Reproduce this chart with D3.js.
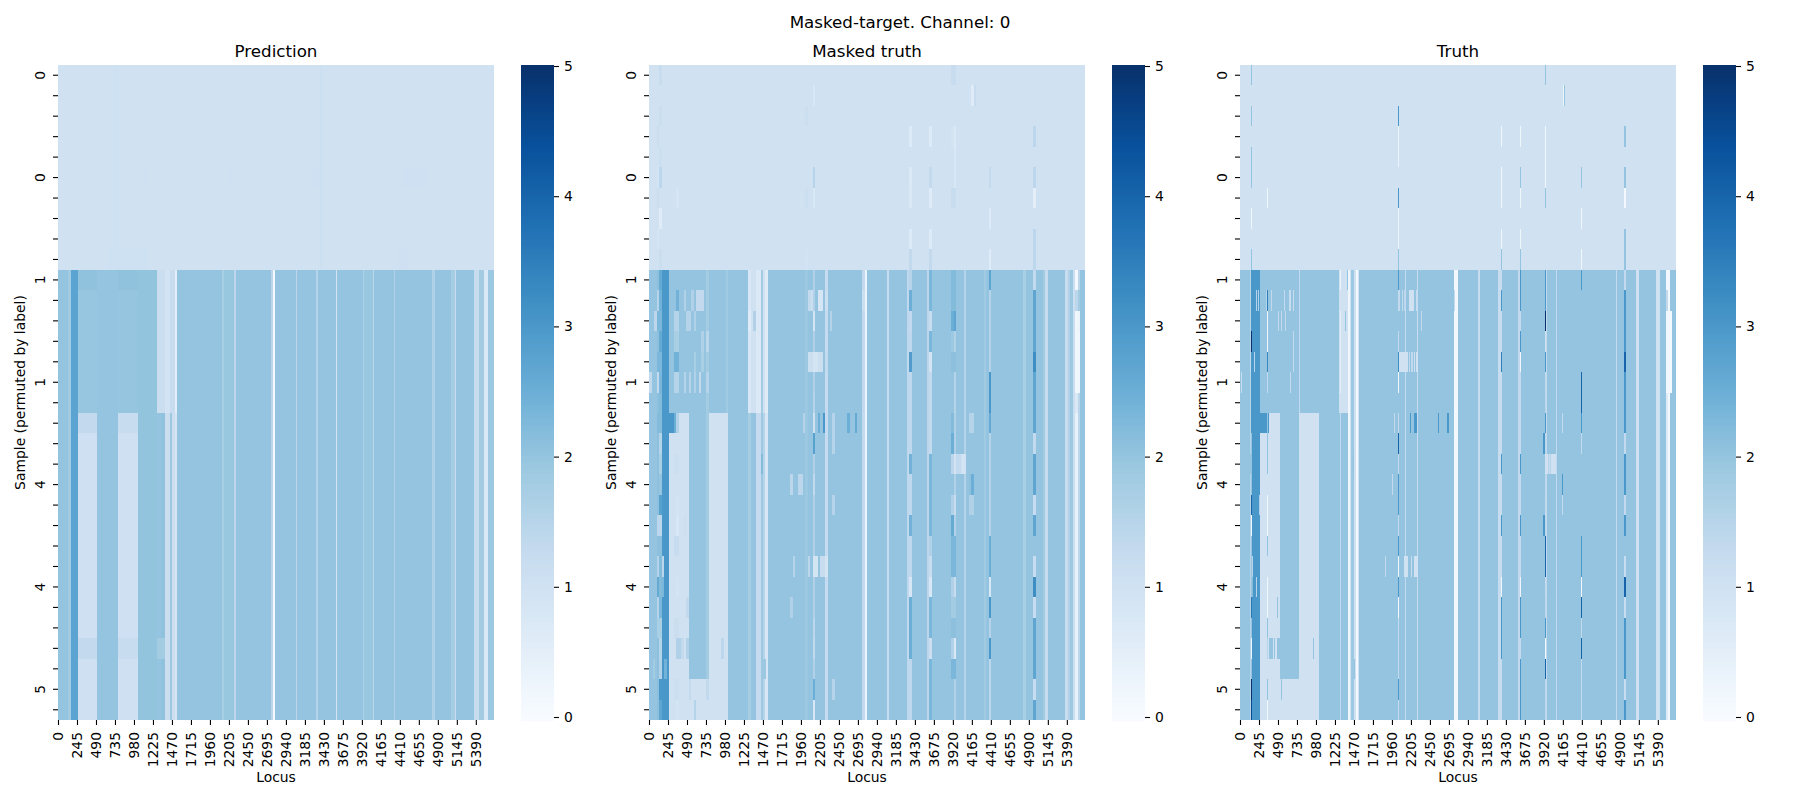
<!DOCTYPE html>
<html>
<head>
<meta charset="utf-8">
<script src="https://cdn.jsdelivr.net/npm/d3@7"></script>
<style>
  html, body { margin: 0; background: #fff; }
  text { font-family: "DejaVu Sans", sans-serif; fill: #000; }
</style>
</head>
<body>
<script>
// heatmap is stored in bins of 12.9 loci, 32 samples by 436 bins
var binLoci = 12.9;
var numBins = 436;
var numRows = 32;

var panelTitles = ["Prediction", "Masked truth", "Truth"];
var xTickLabels = [0, 245, 490, 735, 980, 1225, 1470, 1715, 1960, 2205, 2450, 2695, 2940, 3185, 3430, 3675, 3920, 4165, 4410, 4655, 4900, 5145, 5390];
var yTickLabels = ["0", "0", "1", "1", "4", "4", "5"]; // one label every 5 rows
var colorTicks = [0, 1, 2, 3, 4, 5];
var bluesStops = ["#f7fbff", "#deebf7", "#c6dbef", "#9ecae1", "#6baed6", "#4292c6", "#2171b5", "#08519c", "#08306b"];

// columns: [fromBin, toBin, value], samples 10 to 31
var predictionColumns = [[0,10,2],[10,13,1.85],[13,20,2.75],[20,39,2],[39,60,2],[60,80,2],[80,99,2.02],[99,103,2],[103,107,2.05],[107,112,1.15],[112,114,1.9],[114,117,1.1],[117,119,0.85],[119,164,2],[164,166,1.7],[166,176,1.95],[176,178,1.4],[178,213,2],[213,215,1.4],[215,217,0.1],[217,238,2],[238,239,1.4],[239,258,2],[258,260,1.5],[260,278,2],[278,279,0.9],[279,305,2],[305,306,1.6],[306,315,1.95],[315,316,1.4],[316,336,2],[336,337,1.6],[337,374,2],[374,377,1.6],[377,393,2],[393,397,1.75],[397,398,1.2],[398,416,2],[416,421,1.2],[421,426,1.8],[426,430,0.7],[430,436,1.9]];
var maskedColumns = [[0,8,2],[8,10,2.1],[10,13,2.2],[13,20,3],[20,57,2],[57,60,1.8],[60,77,2],[77,79,1.85],[79,99,2],[99,102,1.75],[102,107,2],[107,112,1.25],[112,114,1.9],[114,116,1.5],[116,119,0.8],[119,156,2],[156,159,1.9],[159,164,2],[164,166,1.6],[166,176,2],[176,179,1.25],[179,213,2],[213,216,1.3],[216,218,0.3],[218,238,2],[238,240,1.2],[240,258,2],[258,263,1.35],[263,278,2],[278,280,1.4],[280,283,1.3],[283,305,2],[305,307,1.6],[307,315,2],[315,317,1.5],[317,335,2],[335,337,1.85],[337,340,2],[340,342,1.5],[342,374,2],[374,377,1.7],[377,384,2],[384,387,2.7],[387,394,2],[394,396,1.8],[396,399,1.2],[399,416,2],[416,419,1.2],[419,421,1.6],[421,424,1.9],[424,426,1.1],[426,429,0.4],[429,431,1.4],[431,436,2]];
var truthColumns = [[0,10,2],[10,11,1.5],[11,20,3],[20,59,2],[59,60,1.3],[60,100,2],[100,101,1.3],[101,108,2],[108,110,0.2],[110,111,1],[111,114,1.9],[114,116,1],[116,118,0.1],[118,119,1],[119,158,2],[158,159,1.3],[159,165,2],[165,166,1.3],[166,177,2],[177,178,1.2],[178,214,2],[214,218,0.1],[218,238,2],[238,240,1.2],[240,258,2],[258,262,1.2],[262,278,2],[278,281,1.3],[281,305,2],[305,306,1.4],[306,307,1.3],[307,316,2],[316,317,1.3],[317,376,2],[376,377,1.3],[377,384,2],[384,386,3],[386,396,2],[396,399,1],[399,416,2],[416,420,1],[420,426,2],[426,428,0.6],[428,430,0.1],[430,436,2]];

// blocks: [fromRow, toRow, fromBin, toBin, value]
var predictionBlocks = [[0,10,0,436,1],[0,10,55,60,1.03],[0,10,262,265,1.06],[5,6,85,90,1.04],[5,6,170,174,1.04],[5,6,255,262,1.04],[5,6,345,370,1.04],[9,10,50,90,1.03],[9,10,340,350,1.04],[10,11,20,39,2.05],[10,11,60,80,2.05],[11,17,20,39,1.96],[11,17,60,80,1.97],[10,17,99,107,1.15],[10,17,107,112,0.95],[10,17,112,117,1.2],[10,17,117,119,0.5],[17,32,20,39,1.05],[17,32,60,80,1.05],[17,18,20,39,1.3],[17,18,60,80,1.2],[28,29,20,39,1.3],[28,29,60,80,1.2],[28,29,99,107,1.8]];
var maskedBlocks = [[0,10,0,436,1],[10,17,99,102,0.8],[10,17,102,107,1],[10,17,107,112,0.7],[10,17,112,114,1.8],[10,17,114,116,1],[10,17,116,119,0.6],[18,32,20,40,1],[17,18,30,40,1],[17,18,13,25,3],[17,32,60,79,1],[30,32,40,60,1]];
var truthBlocks = [[0,10,0,436,1],[10,17,99,108,1],[12,16,100,101,0.5],[18,32,20,40,1],[17,18,29,40,1],[17,18,11,27,3],[17,18,28,29,3],[17,32,59,79,1],[30,32,40,59,1],[18,32,11,12,2],[12,16,430,432,0.1]];

// single cells per sample: [fromBin, toBin, value]
var predictionRows = [[],[],[],[],[],[],[],[],[],[],[],[],[],[],[],[],[],[],[],[],[],[],[],[],[],[],[],[],[],[],[],[]];
var maskedRows = [
  [[10,13,1.2],[302,307,1.2]],
  [[164,166,0.8],[322,325,0.6],[325,327,1.2]],
  [[10,13,1.15],[156,159,1.1]],
  [[8,10,1.15],[260,263,0.65],[280,283,0.65],[302,305,0.9],[305,307,0.7],[384,387,1.4]],
  [[10,13,1.1],[305,307,0.75]],
  [[8,10,0.9],[10,13,1.4],[164,166,1.5],[260,263,0.7],[280,283,1.3],[305,307,0.75],[340,342,1.3],[384,387,1.4]],
  [[8,10,1.1],[27,30,0.85],[156,159,1.1],[164,166,0.75],[260,263,0.75],[280,283,0.6],[302,307,1.2],[384,387,0.5]],
  [[10,13,0.6],[340,342,0.65]],
  [[8,10,0.85],[260,263,0.65],[280,283,0.65],[384,387,1.4]],
  [[10,13,1.15],[156,159,0.95],[260,263,1.3],[280,283,1.3],[340,342,0.6],[384,387,1.4]],
  [[10,13,2.6],[260,263,1.5],[280,283,2.3],[302,307,2.2],[340,342,2.7],[384,387,1.3],[426,429,0.1]],
  [[8,10,1.5],[10,13,2.4],[27,30,2.4],[35,37,1.6],[42,45,1.6],[47,55,1.3],[159,162,1.3],[162,164,1.1],[169,174,0.85],[176,179,1.1],[213,216,1.1],[260,263,2.5],[280,283,2.3],[302,307,2.2],[426,429,1.4],[429,431,1.8]],
  [[5,8,1.4],[8,13,2.3],[25,30,1.5],[37,42,1.5],[45,47,1.6],[99,102,0.6],[104,107,1.6],[107,112,0.7],[164,166,0.9],[181,183,1.5],[260,263,1.3],[280,283,1.2],[302,305,2.5],[305,307,2.7],[426,429,0.2],[429,431,0.3]],
  [[10,13,2.6],[25,30,1.7],[52,55,1.6],[57,60,1.4],[280,283,2.3],[302,305,1.9],[426,431,0.2]],
  [[8,13,2.3],[25,30,2.4],[45,47,1.7],[52,55,1.7],[159,164,1.1],[164,169,0.9],[169,174,1.1],[176,179,1.3],[260,263,2.9],[280,283,0.9],[302,307,2.1],[384,387,3.2],[426,431,0.2]],
  [[0,3,1.3],[8,10,1.3],[10,13,2.3],[25,30,1.5],[35,37,1.5],[40,42,1.5],[45,47,1.6],[50,52,1.3],[57,60,1.5],[305,307,1.5],[340,342,3],[426,431,0.2]],
  [[10,13,2.2],[164,166,1.5],[305,307,1.5],[340,342,3],[426,429,0.7]],
  [[8,13,2.2],[25,27,2.5],[27,30,1.6],[154,156,1.5],[164,166,1],[169,171,2.5],[174,176,3],[183,186,1.5],[198,201,2.5],[206,208,2.6],[302,305,2.2],[305,307,1.6],[320,325,1.5],[340,342,2.6]],
  [[10,13,1.5],[25,30,1],[164,166,2.8],[183,186,1.5],[302,305,2.5],[340,342,1.5],[384,387,1.3]],
  [[10,13,1.7],[25,30,1.1],[112,114,2.2],[260,263,2.4],[280,283,2.3],[302,305,1.4],[305,307,0.95],[307,312,1.3],[312,317,0.95]],
  [[10,13,2],[141,144,1.4],[149,154,1.4],[164,166,1.3],[280,283,2.3],[320,322,2.1],[322,325,2.5]],
  [[10,13,2.8],[27,30,0.9],[183,186,1.5],[280,283,2.3],[302,305,1.6],[305,307,1.2],[320,325,1.6],[384,387,1.2]],
  [[8,13,1.4],[27,30,0.8],[35,37,1.1],[260,263,2.4],[280,283,2.3],[302,305,2.6],[305,307,1.6]],
  [[10,13,2.1],[25,30,1.2],[280,283,1.6],[302,307,2.3],[340,342,2.5],[384,387,2]],
  [[8,10,1.5],[13,15,1.4],[144,146,1.5],[159,161,1.4],[164,169,0.9],[171,176,1.2],[176,179,0.9],[280,283,1.2],[302,307,2.3],[340,342,2.5],[384,387,1.2]],
  [[8,10,2.6],[13,15,2.3],[27,30,0.9],[260,263,0.8],[280,283,0.8],[302,305,1.6],[305,307,1.2],[340,342,0.8],[384,387,3.2]],
  [[8,10,1.5],[10,13,2.3],[37,40,1.3],[141,144,1.6],[260,263,2.5],[280,283,2.3],[302,307,1.8],[340,342,3],[384,387,1.2]],
  [[8,13,1.7],[25,30,1.15],[164,166,1.4],[260,263,2.5],[280,283,2.3],[302,307,2.1],[340,342,1.5]],
  [[10,13,1.5],[27,32,1.6],[32,35,1.3],[37,40,1.6],[72,75,1.4],[164,166,1.3],[260,263,2.5],[280,283,1.1],[302,305,1.6],[305,307,0.75],[340,342,3]],
  [[4,6,1.8],[10,13,1.6],[15,18,2.4],[114,117,1.9],[280,283,2.3],[302,307,2.3],[340,342,1.4]],
  [[10,13,3],[25,30,1.1],[40,42,1.3],[57,60,1.3],[164,166,2.5],[183,186,1.5],[280,283,2.3],[340,342,1.4],[384,387,1.2]],
  [[10,13,2.7],[27,30,0.9],[45,47,1.5],[164,166,0.8],[280,283,2.3],[340,342,1.4]]
];
var truthRows = [
  [[11,12,2],[305,306,2]],
  [[323,324,0.2],[324,325,2]],
  [[11,12,2],[158,159,3]],
  [[158,159,0.3],[261,262,0.2],[280,281,0.2],[305,306,0.2],[384,386,2]],
  [[11,12,2],[158,159,0.3],[305,306,0.2]],
  [[11,12,2],[261,262,0.2],[280,281,2],[305,306,0.2],[341,342,2],[384,386,2]],
  [[27,28,0.2],[158,159,3],[261,262,0.2],[280,281,0.2],[305,306,2],[384,386,0.1]],
  [[11,12,0.2],[158,159,0.3],[341,342,0.2]],
  [[158,159,0.3],[261,262,0.2],[280,281,0.2],[384,386,2]],
  [[11,12,2],[158,159,2],[261,262,2],[280,281,2],[341,342,0.2],[384,386,2]],
  [[100,101,0.3],[107,108,2],[158,159,3],[280,281,3],[305,306,3],[341,342,3],[384,386,1.3],[426,430,0.1]],
  [[16,17,1.5],[18,19,1.5],[26,27,1.5],[27,28,3.5],[31,32,1.3],[44,45,1.3],[49,51,1.2],[53,54,1.2],[159,160,1.3],[162,163,1.3],[164,165,1.4],[169,174,1],[176,177,1.2],[214,215,1.3],[261,262,3],[280,281,3],[305,306,3],[426,428,1.3]],
  [[27,28,0.2],[38,39,1.3],[41,42,1.3],[45,46,1.3],[105,106,2],[158,159,2],[181,182,1.3],[305,306,5],[426,430,0.1]],
  [[11,12,5],[27,28,0.2],[53,54,1.3],[158,159,1.3],[280,281,3],[305,306,1],[426,430,0.1]],
  [[10,11,1.3],[14,15,1.5],[27,28,3.3],[53,54,1.3],[158,159,3.2],[159,168,1],[169,170,1.3],[171,173,1.3],[174,175,1],[176,178,1],[261,262,3.5],[280,281,0.2],[305,306,3],[384,386,4],[426,430,0.1]],
  [[1,2,1.2],[27,28,1.3],[50,51,1.3],[158,159,0.2],[305,306,1.3],[341,342,4],[426,430,0.1]],
  [[158,159,2],[341,342,4]],
  [[27,28,2],[154,155,1.3],[170,171,3],[174,177,3],[198,199,3],[207,209,3],[305,306,3],[322,323,1.3],[341,342,3]],
  [[27,28,2],[158,159,4],[303,305,3],[341,342,1.3],[384,386,1.3]],
  [[10,11,2],[27,28,2],[113,114,2],[261,262,3],[280,281,3],[305,308,1],[308,309,1.5],[309,310,1.2],[310,311,1.5],[311,316,1]],
  [[152,153,1.3],[158,159,3],[322,323,3]],
  [[11,12,4],[19,20,1.6],[27,28,0.2],[158,159,3],[305,306,1.3],[322,323,1.3],[384,386,1.3]],
  [[11,12,0.2],[27,28,0.2],[261,262,3],[280,281,3],[303,305,3]],
  [[27,28,2],[158,159,3],[305,306,4],[341,342,3],[384,386,2]],
  [[12,13,1.5],[145,146,1.3],[158,159,0.2],[164,168,1],[171,172,1.2],[174,178,1],[305,306,4],[341,342,3],[384,386,1.2]],
  [[12,13,2.2],[16,17,1.5],[27,28,0.2],[158,159,3],[261,262,0.2],[280,281,0.2],[305,306,1.3],[341,342,0.2],[384,386,4]],
  [[11,12,3.6],[27,28,0.2],[37,38,2],[158,159,0.1],[261,262,3],[280,281,3],[341,342,4],[384,386,1.2]],
  [[27,28,2],[261,262,3],[280,281,3],[305,306,3],[341,342,1.3]],
  [[11,12,0.3],[27,28,1.5],[29,33,2],[34,35,2],[37,40,2],[73,74,2],[261,262,3],[280,281,1.3],[305,306,0.2],[341,342,4]],
  [[114,115,2],[280,281,3],[305,306,4],[341,342,1.3]],
  [[11,12,5],[27,28,2],[41,42,2],[158,159,3],[280,281,3],[341,342,1.3],[384,386,1.2]],
  [[11,12,4.5],[27,28,0.1],[280,281,3],[341,342,1.3]]
];

var panelColumns = [predictionColumns, maskedColumns, truthColumns];
var panelBlocks = [predictionBlocks, maskedBlocks, truthBlocks];
var panelRows = [predictionRows, maskedRows, truthRows];

var width = 1800;
var height = 800;
var panelLefts = [58, 649, 1240]; // left edge of each heatmap
var mapWidth = 436;
var mapTop = 65;
var mapBottom = 720;
var barGap = 27; // between heatmap and colorbar
var barWidth = 33;

var svg = d3.select("body").append("svg")
    .attr("width", width)
    .attr("height", height)
    .style("display", "block");

// same colours as the matplotlib Blues map
var color = d3.scaleLinear()
    .domain(bluesStops.map(function(c, i) { return i * 5 / 8; }))
    .range(bluesStops)
    .clamp(true);

var xScale = d3.scaleLinear()
    .domain([0, numBins * binLoci])
    .range([0, mapWidth]);

var yScale = d3.scaleBand()
    .domain(d3.range(numRows))
    .range([mapTop, mapBottom]);

var barScale = d3.scaleLinear()
    .domain([0, 5])
    .range([717, 66]);

svg.append("text")
    .attr("x", width / 2)
    .attr("y", 28)
    .attr("text-anchor", "middle")
    .style("font-size", "16.7px")
    .text("Masked-target. Channel: 0");

function drawPanel(i) {
    var left = panelLefts[i];
    var g = svg.append("g").attr("transform", "translate(" + left + ",0)");

    // flatten columns, blocks and single cells to [fromRow, toRow, fromBin, toBin, value]
    var cells = panelColumns[i].map(function(c) { return [10, numRows, c[0], c[1], c[2]]; })
        .concat(panelBlocks[i]);
    panelRows[i].forEach(function(list, r) {
        list.forEach(function(c) { cells.push([r, r + 1, c[0], c[1], c[2]]); });
    });

    g.append("g").selectAll("rect")
        .data(cells)
        .join("rect")
        .attr("x", function(d) { return xScale(d[2] * binLoci); })
        .attr("width", function(d) { return xScale((d[3] - d[2]) * binLoci); })
        .attr("y", function(d) { return yScale(d[0]); })
        .attr("height", function(d) { return (d[1] - d[0]) * yScale.bandwidth(); })
        .attr("fill", function(d) { return color(d[4]); })
        .attr("shape-rendering", "crispEdges");

    // x axis, labels turned upright
    var xAxis = g.append("g")
        .attr("transform", "translate(0," + mapBottom + ")")
        .call(d3.axisBottom(xScale).tickValues(xTickLabels).tickFormat(d3.format("d")).tickSize(5).tickPadding(5));
    xAxis.select(".domain").remove();
    xAxis.selectAll("line").attr("stroke-width", 1.1);
    xAxis.selectAll("text")
        .attr("text-anchor", "end")
        .attr("x", 0)
        .attr("y", 0)
        .attr("dy", "0.35em")
        .attr("transform", "translate(0,12) rotate(-90)")
        .style("font-size", "13.9px");

    // y axis, a tick for every sample and a label for every fifth
    var yAxis = g.append("g")
        .call(d3.axisLeft(yScale)
            .tickSize(5)
            .tickFormat(function(r) { return r % 5 == 0 ? yTickLabels[r / 5] : ""; }));
    yAxis.select(".domain").remove();
    yAxis.selectAll("line").attr("stroke-width", 1.1);
    yAxis.selectAll("text")
        .attr("text-anchor", "middle")
        .attr("x", 0)
        .attr("y", 0)
        .attr("dy", "0.35em")
        .attr("transform", "translate(-18,0) rotate(-90)")
        .style("font-size", "13.9px");

    g.append("text")
        .attr("x", mapWidth / 2)
        .attr("y", 57)
        .attr("text-anchor", "middle")
        .style("font-size", "16.7px")
        .text(panelTitles[i]);

    g.append("text")
        .attr("x", mapWidth / 2)
        .attr("y", 782)
        .attr("text-anchor", "middle")
        .style("font-size", "13.9px")
        .text("Locus");

    g.append("text")
        .attr("transform", "translate(-33," + (mapTop + mapBottom) / 2 + ") rotate(-90)")
        .attr("text-anchor", "middle")
        .style("font-size", "13.9px")
        .text("Sample (permuted by label)");

    // colorbar
    var bar = g.append("g").attr("transform", "translate(" + (mapWidth + barGap) + ",0)");
    bar.append("g").selectAll("rect")
        .data(d3.range(-0.03, 5.01, 0.02))
        .join("rect")
        .attr("x", 0)
        .attr("width", barWidth)
        .attr("y", function(v) { return barScale(v + 0.02); })
        .attr("height", barScale(0) - barScale(0.02) + 0.5)
        .attr("fill", function(v) { return color(v); })
        .attr("shape-rendering", "crispEdges");
    var barAxis = bar.append("g")
        .attr("transform", "translate(" + barWidth + ",0)")
        .call(d3.axisRight(barScale).tickValues(colorTicks).tickFormat(d3.format("d")).tickSize(5).tickPadding(5));
    barAxis.select(".domain").remove();
    barAxis.selectAll("line").attr("stroke-width", 1.1);
    barAxis.selectAll("text").style("font-size", "13.9px");
}

panelTitles.forEach(function(t, i) { drawPanel(i); });
</script>
</body>
</html>
